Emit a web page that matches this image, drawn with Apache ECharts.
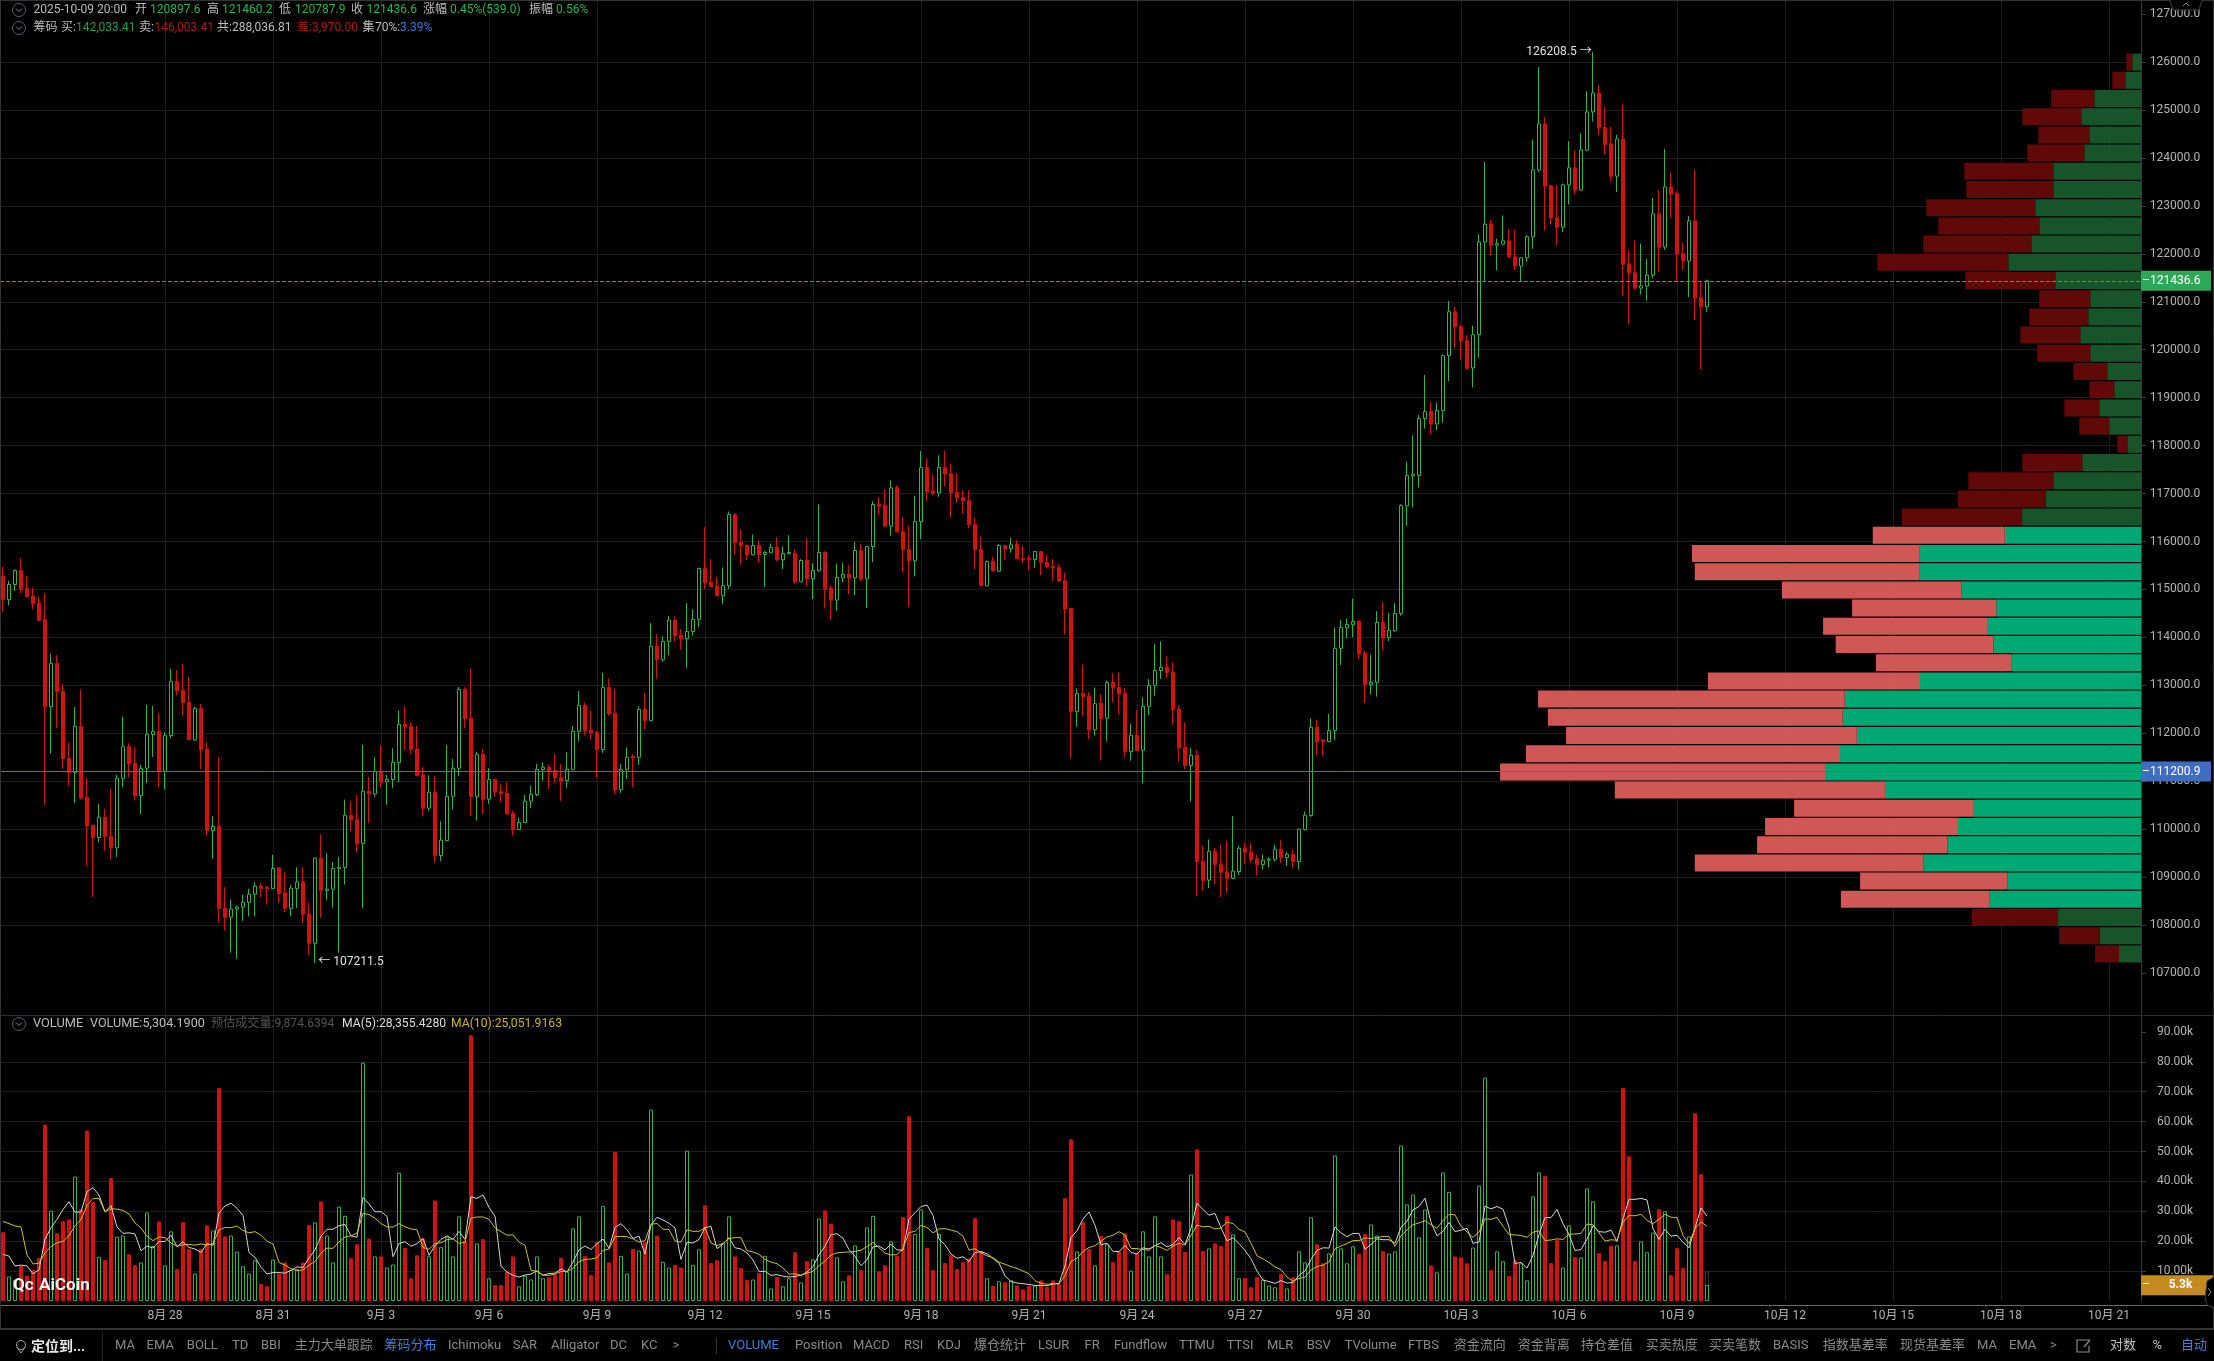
<!DOCTYPE html>
<html><head><meta charset="utf-8">
<style>html,body{margin:0;padding:0;background:#000}#c{width:2214px;height:1361px}</style>
<script src="https://cdn.jsdelivr.net/npm/echarts@6/dist/echarts.min.js"></script>
</head><body><div id="c"></div>
<script>
const open=[115270,114785,115104,115396,115021,114861,114715,114375,112556,113459,
112875,111480,111181,112146,110667,110084,109827,110250,109855,109612,
111063,111730,111375,110702,111271,111973,112042,111209,111952,113084,
112896,112646,111861,112521,111674,109973,110063,108355,108167,108334,
108375,108473,108646,108813,108792,108764,109195,108674,108348,108764,
108903,108230,107619,109396,108723,108751,109181,109202,110292,110209,
109702,110792,110737,111209,110993,111035,111389,112188,112146,111674,
111132,110438,110771,109452,109764,110688,111271,112917,112313,110681,
111563,110625,111042,110792,110750,110334,109993,110139,110584,110723,
111243,111292,111229,111084,111014,111250,112042,112583,112063,112021,
111660,112958,112417,110826,111250,111521,111500,112507,112264,113813,
113535,113917,114361,114049,113972,114125,114375,115437,115153,115069,
114868,115076,116562,115986,115924,115722,115924,115729,115764,115882,
115618,115743,115757,115160,115611,115222,115389,115778,115028,114778,
115243,115319,115243,115812,115222,115896,116778,116757,116319,117125,
116208,115833,115597,116416,117541,117048,117014,117541,117416,117021,
116916,116854,116354,115833,115076,115590,115382,115917,115854,115937,
115646,115653,115625,115792,115562,115479,115458,115180,114604,112451,
112833,112771,112076,112625,112313,113062,112958,112833,111618,111958,
111646,112563,113000,113312,113382,113271,112507,111708,111326,111542,
109333,108938,109542,109271,109104,108972,109118,109604,109521,109382,
109264,109354,109375,109583,109410,109479,109326,109993,110285,112125,
111861,111826,112056,113771,114201,114264,114340,113674,113014,113062,
114312,113993,114139,114500,116743,117368,117376,118563,118709,118452,
118730,119876,120792,120480,120188,119619,120313,122244,122626,122181,
122202,122271,121938,121744,121917,122355,123750,124709,123417,122751,
122556,123438,123792,123327,124160,124959,125355,124632,124292,123619,
124396,121792,121605,121285,121327,121556,122834,122140,123396,123258,
122001,121848,122688,121084,120897.6];
const close=[114790,115104,115396,115007,114847,114702,114354,112556,113459,112868,
111473,111181,112146,110653,110077,109827,110250,109848,109612,111063,
111730,111361,110702,111271,111980,112042,111202,111959,113084,112889,
112639,111868,112521,111660,109973,110056,108348,108160,108334,108375,
108473,108646,108813,108764,108764,109181,108660,108348,108771,108896,
108223,107619,109396,108723,108751,109181,109209,110292,110195,109695,
110792,110737,111209,110980,111042,111396,112188,112132,111660,111118,
110438,110771,109452,109771,110688,111271,112917,112306,110681,111563,
110618,111035,110778,110743,110320,109986,110139,110584,110730,111250,
111292,111222,111077,111007,111250,112042,112583,112049,112007,111660,
112958,112403,110820,111250,111500,111486,112500,112264,113813,113535,
113917,114361,114028,113972,114125,114375,115437,115139,115055,114868,
115083,116562,115972,115910,115722,115917,115722,115771,115875,115618,
115750,115771,115153,115604,115222,115396,115771,115007,114778,115250,
115312,115243,115812,115215,115896,116771,116736,116319,117118,116201,
115826,115597,116416,117541,117034,117007,117541,117410,117014,116910,
116847,116347,115826,115076,115583,115389,115917,115847,115930,115639,
115618,115618,115792,115555,115472,115451,115174,114590,112451,112833,
112764,112069,112618,112306,113062,112951,112826,111618,111958,111639,
112563,113000,113312,113375,113264,112493,111695,111326,111542,109326,
108931,109542,109264,109097,108972,109125,109604,109514,109368,109264,
109354,109375,109583,109410,109479,109326,110000,110292,112125,111826,
111826,112056,113771,114208,114271,114333,113660,113014,113062,114312,
113986,114146,114500,116750,117375,117403,118563,118709,118452,118730,
119876,120792,120473,120181,119612,120313,122244,122619,122181,122209,
122271,121931,121744,121917,122355,123750,124709,123410,122744,122556,
123438,123792,123327,124167,124959,125355,124618,124278,123619,124396,
121778,121598,121285,121334,121556,122834,122133,123396,123244,121994,
121848,122688,121077,120897,121436.6];
const low=[114530,114667,114972,114924,114833,114590,114340,110507,111577,112111,
111257,110910,110549,110618,109244,108584,109730,109556,109369,109417,
110875,111077,110598,110320,110966,111507,110875,110827,111896,112799,
112368,111860,111841,111257,109868,109382,108049,107890,107424,107299,
108091,108181,108181,108584,108424,108757,108466,108271,108181,108355,
108042,107383,107211.5,108153,108528,108362,107424,108848,109952,109521,
108355,110132,110674,110861,110507,110861,110980,111646,111570,111104,
110264,110382,109299,109334,109743,110410,111105,112104,110271,110181,
110320,110528,110681,110563,110306,109868,109980,110130,110438,110688,
111014,110840,110966,110590,110868,111222,111826,111951,111861,111077,
111590,112368,110736,110757,111049,110875,111340,112077,112257,113132,
113493,113632,113917,113743,113368,114035,114215,115007,115042,114854,
114694,115007,115722,115514,115611,115715,115562,115049,115757,115590,
115423,115736,115111,115153,115069,114798,115368,114604,114361,114556,
115153,114903,114882,115174,114611,115569,116548,116310,116118,116187,
115354,114639,115271,116048,116847,116965,116930,117146,116507,116812,
116576,116271,115423,115070,115069,115368,115368,115618,115771,115632,
115562,115403,115444,115298,115437,115174,115160,114069,111486,112139,
112354,111882,111951,111431,111826,112646,112403,111500,111431,111630,
110958,112382,112785,113132,113153,112174,111410,111257,110576,108597,
108722,108771,108861,108583,108674,108960,109049,109278,109299,109035,
109160,109201,109326,109299,109229,109201,109153,109972,110250,111535,
111521,111815,111861,113424,113979,114000,113549,112632,112819,112764,
113729,113917,114118,114451,116326,116708,117126,118355,118244,118327,
118480,119341,120029,119786,119591,119216,119834,121431,121966,121660,
122188,121924,121653,121431,121834,122105,123700,122494,122612,122174,
122452,123028,123243,123320,124140,124757,124480,124070,123514,123285,
121119,120535,121244,121154,121021,121494,121626,122077,122758,121431,
121674,121098,120619,119591,120787.9];
const high=[115470,115181,115420,115653,115285,115042,114854,114924,113660,113632,
113042,111813,112549,112917,111063,110090,110528,110424,110841,111132,
112348,111792,111716,111341,112591,112570,112424,112021,113341,113320,
113445,113174,112556,112611,111813,110271,111500,108792,108535,108410,
108632,108757,108896,108875,108813,109466,109209,109105,108841,109209,
109209,108466,109410,109896,109500,109313,109417,110618,110590,110716,
111757,111091,111500,111750,111132,111688,112479,112563,112229,112153,
111299,111125,111104,110167,111757,111466,112966,112966,113354,111618,
111674,111271,111050,110938,110980,110382,110243,110716,110910,111361,
111396,111340,111569,111361,111604,112160,112882,112646,112479,112056,
113257,113146,112924,111361,111708,111563,112563,112840,114299,114069,
114021,114451,114437,114174,114715,114583,115458,116298,115632,115264,
115458,116625,116590,116257,115935,116146,116028,115806,115958,116090,
115903,116132,115840,115632,116069,115549,116778,115790,115076,115542,
115562,115514,115993,115958,115900,116840,116923,117090,117278,117173,
116507,116326,116958,117882,117736,117396,117798,117896,117625,117423,
117069,117069,116500,116104,115604,115687,115944,115925,116076,116028,
115910,115715,115800,115800,115722,115632,115528,115354,114625,112937,
113431,112861,112958,112819,113097,113257,113271,112937,112194,112486,
112750,113132,113868,113917,113604,113479,112590,112229,111695,111653,
109660,109785,109611,109674,109757,110271,109660,109715,109708,109465,
109465,109417,109674,109771,109521,109569,110010,110368,112313,112285,
111882,112403,114208,114368,114396,114812,114350,113722,113639,114549,
114736,114514,114715,116778,117666,118215,118640,119473,118910,118897,
119903,121015,120897,120529,120299,120501,122410,123917,122709,122313,
122799,122507,122507,121931,122390,124382,125896,124855,123438,123438,
123466,124348,124153,124514,125389,126208.5,125514,125063,124646,124480,
125118,122063,122278,122216,121896,123167,123327,124188,123688,123299,
122230,122792,123757,121431,121460.2];
const volumeK=[23.0,8.2,7.0,11.7,8.5,10.4,14.4,59.0,30.2,22.7,
26.7,27.3,41.6,30.6,57.0,33.1,14.8,13.7,41.1,21.5,
21.9,15.6,12.0,12.9,29.6,18.4,26.6,11.9,23.3,10.7,
26.4,17.4,9.2,17.5,25.3,23.6,71.2,21.6,21.9,16.5,
11.6,9.2,13.6,5.7,5.0,13.9,9.2,12.9,10.4,10.6,
12.9,25.4,26.3,33.3,21.9,12.9,31.6,28.5,14.3,19.0,
79.7,20.9,14.9,14.9,11.2,12.2,42.9,17.8,7.6,15.3,
20.9,15.0,33.6,18.0,21.5,14.9,28.3,20.2,88.9,19.3,
20.7,7.6,5.3,5.3,9.8,14.9,4.9,8.4,7.2,14.9,
7.6,7.9,8.9,14.4,9.8,24.3,28.3,15.0,8.7,19.7,
31.8,12.9,49.8,15.1,9.2,17.4,16.9,19.7,64.0,21.9,
13.1,11.2,12.0,11.2,50.3,12.1,17.3,32.0,12.7,13.6,
19.3,28.3,14.9,11.0,7.0,7.2,9.4,15.1,4.2,8.0,
4.9,7.6,16.3,6.2,13.3,13.9,27.6,30.3,25.9,14.6,
6.6,8.6,18.6,10.4,24.6,28.5,9.9,11.9,19.9,15.1,
28.1,61.8,22.4,30.6,17.7,10.4,22.4,12.7,15.3,10.7,
13.0,14.3,27.7,16.6,7.6,5.0,6.6,6.3,6.9,5.2,
3.9,5.0,5.2,6.9,4.7,6.9,5.7,34.4,54.1,16.6,
26.4,17.4,11.9,21.7,19.0,13.0,16.7,22.6,10.2,16.0,
23.3,14.9,28.3,14.9,9.0,27.3,26.7,16.4,42.3,50.7,
16.7,17.6,19.3,18.4,28.4,22.3,7.6,7.7,4.6,8.0,
7.2,5.2,4.6,9.0,4.2,7.9,16.6,12.9,28.0,19.0,
12.6,15.9,48.7,17.6,12.6,18.3,15.7,22.4,25.6,21.9,
16.7,15.9,16.6,52.0,32.3,35.6,21.3,30.6,11.9,9.6,
43.0,36.5,14.9,14.6,12.6,17.9,38.6,74.7,10.4,16.6,
13.3,8.4,13.6,12.6,6.9,35.0,43.0,41.8,12.7,20.4,
11.2,25.3,14.7,14.6,37.6,33.3,16.0,13.4,18.4,18.6,
71.2,48.4,13.4,19.9,16.3,22.9,30.7,30.0,8.7,17.7,
11.0,21.6,62.8,42.4,5.3042];
const ma5K=[15.6,15.0,11.7,12.0,11.7,9.1,10.4,20.7,24.5,27.3,
30.6,33.2,29.7,29.8,36.6,37.9,35.4,29.8,31.9,24.8,
22.6,22.8,22.4,16.8,18.4,17.7,19.9,19.9,22.0,18.2,
19.8,17.9,17.4,16.2,19.2,18.6,29.4,31.8,32.7,31.0,
28.6,16.2,14.6,11.3,9.0,9.5,9.5,9.3,10.3,11.4,
11.2,14.4,17.1,21.7,24.0,24.0,25.2,25.6,21.8,21.3,
34.6,32.5,29.8,29.9,28.3,14.8,19.2,19.8,18.3,19.2,
20.9,15.3,18.5,20.6,21.8,20.6,23.3,20.6,34.8,34.3,
35.5,31.3,28.4,11.6,9.7,8.6,8.0,8.7,9.0,10.1,
8.6,9.2,9.3,10.7,9.7,13.1,17.1,18.4,17.2,19.2,
20.7,17.6,24.6,25.9,23.8,20.9,21.7,15.7,25.4,28.0,
27.1,26.0,24.4,13.9,19.6,19.4,20.6,24.6,24.9,17.5,
19.0,21.2,17.8,17.4,16.1,13.7,9.9,9.9,8.6,8.8,
8.3,8.0,8.2,8.6,9.7,11.5,15.5,18.3,22.2,22.5,
21.0,17.2,14.9,11.8,13.8,18.1,18.4,17.1,19.0,17.1,
17.0,27.4,29.5,31.6,32.1,28.6,20.7,18.8,15.7,14.3,
14.8,13.2,16.2,16.5,15.8,14.2,12.7,8.4,6.5,6.0,
5.8,5.5,5.2,5.2,5.1,5.7,5.9,11.7,21.2,23.5,
27.4,29.8,25.3,18.8,19.3,16.6,16.5,18.6,16.3,15.7,
17.8,17.4,18.5,19.5,18.1,18.9,21.2,18.9,24.3,32.7,
30.6,28.7,29.3,24.5,20.1,21.2,19.2,16.9,14.1,10.0,
7.0,6.5,5.9,6.8,6.0,6.2,8.5,10.1,13.9,16.9,
17.8,17.7,24.8,22.8,21.5,22.6,22.6,17.3,18.9,20.8,
20.5,20.5,19.3,24.6,26.7,30.5,31.6,34.4,26.3,21.8,
23.3,26.3,23.2,23.7,24.3,19.3,19.7,31.7,30.8,31.6,
30.7,24.7,12.5,12.9,11.0,15.3,22.2,27.9,27.9,30.6,
25.8,22.3,16.9,17.2,20.7,25.1,23.2,23.0,23.7,19.9,
27.5,34.0,34.0,34.3,33.8,24.2,20.6,24.0,21.7,22.0,
19.6,17.8,24.4,31.1,28.36];
const ma10K=[26.6,25.9,25.1,24.8,15.4,12.4,12.6,16.1,18.2,19.5,
19.9,21.8,25.2,27.2,32.0,34.3,34.3,29.8,30.9,30.7,
30.3,29.1,26.1,24.4,21.6,20.2,21.4,21.2,19.4,18.3,
18.8,18.9,18.7,19.1,18.7,19.2,23.7,24.6,24.5,25.1,
23.6,22.8,23.2,22.0,20.0,19.1,12.9,12.0,10.8,10.2,
10.4,12.0,13.2,16.0,17.7,17.6,19.8,21.4,21.8,22.7,
29.3,28.9,27.7,25.9,24.8,24.7,25.9,24.8,24.1,23.8,
17.9,17.3,19.2,19.5,20.5,20.8,19.3,19.6,27.7,28.1,
28.1,27.3,24.5,23.2,22.0,22.1,19.7,18.6,10.3,9.9,
8.6,8.6,9.0,9.9,9.9,10.9,13.2,13.9,14.0,14.5,
16.9,17.4,21.5,21.6,21.5,20.8,19.7,20.2,25.7,25.9,
24.0,23.9,20.1,19.7,23.8,23.3,23.3,24.5,19.4,18.6,
19.2,20.9,21.2,21.2,16.8,16.4,15.6,13.9,13.0,12.5,
11.0,9.0,9.1,8.6,9.3,9.9,11.8,13.3,15.4,16.1,
16.3,16.4,16.6,17.0,18.2,19.6,17.8,16.0,15.4,15.5,
17.6,22.9,23.3,25.3,24.6,22.8,24.1,24.2,23.7,23.2,
21.7,17.0,17.5,16.1,15.1,14.5,13.0,12.3,11.5,10.9,
10.0,9.1,6.8,5.9,5.6,5.8,5.7,8.5,13.2,14.3,
16.6,17.9,18.5,20.0,21.4,22.0,23.2,22.0,17.6,17.5,
17.2,17.0,18.6,17.9,16.9,18.4,19.3,18.7,21.9,25.4,
24.8,25.0,24.1,24.4,26.4,25.9,24.0,23.1,19.3,15.1,
14.1,12.9,11.4,10.5,8.0,6.6,7.5,8.0,10.4,11.5,
12.0,13.1,17.5,18.4,19.2,20.2,20.2,21.1,20.9,21.2,
21.6,21.6,18.3,21.8,23.8,25.5,26.1,26.9,25.5,24.3,
26.9,29.0,28.8,25.0,23.1,21.3,23.0,27.5,27.3,28.0,
25.0,22.2,22.1,21.9,21.3,23.0,23.5,20.2,20.4,20.8,
20.6,22.3,22.4,22.6,25.7,25.5,22.8,20.0,20.5,20.3,
26.3,28.6,28.5,29.0,26.9,25.9,27.3,29.0,28.0,27.9,
21.9,19.2,24.2,26.4,25.05];
const chipBuy=[200,361,1074,1373,1189,1304,2017,2017,2431,2339,2523,3052,1971,1166,1212,1396,1166,775,614,959,729,315,1350,2017,2190,2735,3133,5104,5104,4124,3328,3542,3393,2972,5083,6815,6859,6537,6923,7268,5890,3843,4209,4448,5007,3068,3478,1907,948,506];
const chipSell=[138,299,989,1357,1173,1311,2047,2001,2507,2323,2484,3013,2070,1173,1357,1380,1219,782,575,805,690,230,1380,1955,2024,2767,3036,5223,5159,4135,3317,3770,3629,3123,4878,7052,6783,6686,7224,7473,6212,4135,4437,4382,5256,3393,3425,1980,936,550];
const chipZone=[26,46];
const priceTicks=[107000,108000,109000,110000,111000,112000,113000,114000,115000,116000,117000,118000,119000,120000,121000,122000,123000,124000,125000,126000,127000];
const volumeTicks=[10,20,30,40,50,60,70,80,90];
const lastPrice=121436.6, crossPrice=111200.9, estimatedVolumeK=9.8746;
const highMark=[265,126208.5], lowMark=[52,107211.5];
const slots=357;
const categories=[];
for(let i=0;i<slots;i++){const d=new Date(2025,7,23,12+4*i);categories.push((d.getMonth()+1)+'月 '+d.getDate());}

const FONT='Roboto,"Noto Sans CJK SC",sans-serif';
const UP='#2db24e',DOWN='#d01212',GRID='#1e1e1e',AX='#3a3a3a',TICK='#b4b4b4';
const gL='#bdbdbd',gV='#1db954',gT='#8a8a8a';
const headerRow1=[['2025-10-09 20:00',33.5,gL],['开',135,gL],['120897.6',150,gV],['高',207,gL],['121460.2',222,gV],['低',279,gL],['120787.9',295,gV],['收',351,gL],['121436.6',366.5,gV],['涨幅',423,gL],['0.45%(539.0)',450,gV],['振幅',529,gL],['0.56%',556,gV]];
const headerRow2=[['筹码',33.5,gL],['买:',61,gL],['142,033.41',76,'#1f9f4c'],['卖:',139,gL],['146,003.41',154.5,'#b01818'],['共:288,036.81',217,gL],['差:',297,'#b01818'],['3,970.00',312,'#b01818'],['集',362.5,gL],['70%:',375,gL],['3.39%',400,'#2d7fe0']];
const legendRow=[['VOLUME',33,gL,12.8],['VOLUME:5,304.1900',90,gL,12.6],['预估成交量:9,874.6394',211,'#555555',12.1],['MA(5):28,355.4280',342,'#dddddd',12.2],['MA(10):25,051.9163',451,'#c8b820',12.2]];
const toolbar=[['MA',115],['EMA',146.6],['BOLL',186.8],['TD',232],['BBI',261],['主力大单跟踪',294.7],['筹码分布',384.6,'#3f7fd8'],['Ichimoku',448],['SAR',512.8],['Alligator',551],['DC',610],['KC',641],['>',672.7],['VOLUME',728,'#3f7fd8'],['Position',795],['MACD',853],['RSI',904],['KDJ',937],['爆仓统计',974],['LSUR',1038],['FR',1084.5],['Fundflow',1114],['TTMU',1179],['TTSI',1226.7],['MLR',1267],['BSV',1306.7],['TVolume',1344.7],['FTBS',1408],['资金流向',1453.7],['资金背离',1517.7],['持仓差值',1581],['买卖热度',1645.7],['买卖笔数',1709],['BASIS',1773],['指数基差率',1822.8],['现货基差率',1900],['MA',1977],['EMA',2009],['>',2050],['对数',2110,'#c4c4c4'],['%',2152.5,'#c4c4c4'],['自动',2181,'#3f7fd8']];

const txt=(s,x,y,fill,size,weight)=>({type:'text',z:100,silent:true,x,y,style:{text:s,fill,font:(weight||'normal')+' '+(size||12)+'px '+FONT,verticalAlign:'middle',align:'left'}});
const seg=(x1,y1,x2,y2,c,w)=>({type:'line',z:90,silent:true,shape:{x1,y1,x2,y2},style:{stroke:c,lineWidth:w||1}});
const chevronIcon=(cx,cy)=>[{type:'circle',z:100,silent:true,shape:{cx,cy,r:6.5},style:{fill:'none',stroke:'#5a5f6a',lineWidth:1}},
 {type:'polyline',z:100,silent:true,shape:{points:[[cx-3,cy-1.5],[cx,cy+1.5],[cx+3,cy-1.5]]},style:{fill:'none',stroke:'#8a8f9a',lineWidth:1}}];
const graphics=[
 seg(0,1015.5,2214,1015.5,'#2c2c2c'),
 seg(0,1305.5,2214,1305.5,'#6a6a70'),
 seg(0,1329,2214,1329,'#333',2),
 seg(0.5,0,0.5,1329,'#333'),
 seg(2213.5,0,2213.5,1329,'#333'),
 seg(0,0.5,2214,0.5,'#333'),
 seg(102.5,1331,102.5,1361,'#222'),
 seg(716.5,1338,716.5,1354,'#333'),
 {type:'polyline',z:95,silent:true,shape:{points:[[2170,0],[2173,10],[2199,10],[2202,0]]},style:{fill:'#000',stroke:'#444',lineWidth:1}},
 {type:'polyline',z:96,silent:true,shape:{points:[[2183,6],[2186,3],[2189,6]]},style:{fill:'none',stroke:'#888',lineWidth:1}},
 {type:'polyline',z:95,silent:true,shape:{points:[[2214,1277],[2207,1281],[2205,1300],[2207,1305],[2214,1308]]},style:{fill:'#000',stroke:'#444',lineWidth:1}},
 {type:'polyline',z:96,silent:true,shape:{points:[[2208,1288],[2211,1292],[2208,1296]]},style:{fill:'none',stroke:'#888',lineWidth:1}},
 ...chevronIcon(19,10),...chevronIcon(19,28),...chevronIcon(19,1024),
 ...headerRow1.map(a=>txt(a[0],a[1],10,a[2])),
 ...headerRow2.map(a=>txt(a[0],a[1],28,a[2])),
 ...legendRow.map(a=>txt(a[0],a[1],1024,a[2],a[3])),
 ...toolbar.map(a=>txt(a[0],a[1],1346,a[2]||gT,13)),
 txt('定位到...',31,1347,'#e8e8e8',14,'bold'),
 {type:'circle',z:100,silent:true,shape:{cx:21,cy:1345,r:4.5},style:{fill:'none',stroke:'#a0a0a0',lineWidth:1}},
 {type:'polyline',z:100,silent:true,shape:{points:[[16.8,1347],[21,1353],[25.2,1347]]},style:{fill:'none',stroke:'#a0a0a0',lineWidth:1}},
 {type:'polyline',z:100,silent:true,shape:{points:[[2090,1340],[2077,1340],[2077,1352],[2089,1352],[2089,1346]]},style:{fill:'none',stroke:'#8a8a8a',lineWidth:1.2}},
 seg(2084,1347,2090,1340,'#8a8a8a',1.2),
 txt('Qc',13,1286,'#f4f4f4',17,'bold'),
 txt('AiCoin',39,1286,'#f4f4f4',17,'bold')
];

const tag=(value,text,bg,lineStyle)=>({yAxis:value,lineStyle,label:{show:true,position:'end',distance:-1,formatter:'{d|–}{v|'+text+'}',backgroundColor:bg,padding:[4,0,4,1],rich:{d:{color:'#fff',fontSize:12,fontFamily:FONT,width:8},v:{color:'#fff',fontSize:12,fontFamily:FONT,width:61,align:'left'}}}});
const volStyleUp={color:'rgba(0,0,0,0)',borderColor:UP,borderWidth:1};
const volStyleDown={color:DOWN,borderColor:DOWN,borderWidth:1};
const chipColor=(i,bright,dark)=>(i>=chipZone[0]&&i<=chipZone[1])?bright:dark;
const tickInterval=(idx)=>idx>=27&&idx%18===9;
const hidden={color:'rgba(0,0,0,0)'};

const chart=echarts.init(document.getElementById('c'),null,{renderer:'canvas'});
chart.setOption({
 animation:false,backgroundColor:'#000',textStyle:{fontFamily:FONT},
 grid:[
  {left:0,width:2142,top:-33.9,height:1054.9,outerBoundsMode:'none'},
  {left:0,width:2142,top:1002,height:299,outerBoundsMode:'none'},
  {left:0,width:2141,top:53,height:910,outerBoundsMode:'none'}
 ],
 xAxis:[
  {type:'category',gridIndex:0,data:categories,boundaryGap:true,axisLine:{show:false},axisTick:{show:false},axisLabel:{show:false},
   splitLine:{show:true,alignWithLabel:true,interval:(i)=>tickInterval(i),lineStyle:{color:GRID}}},
  {type:'category',gridIndex:1,data:categories,boundaryGap:true,axisLine:{show:false},axisTick:{show:false},
   axisLabel:{show:true,interval:(i)=>tickInterval(i),color:TICK,fontSize:12,margin:9,fontFamily:FONT},
   splitLine:{show:true,alignWithLabel:true,interval:(i)=>tickInterval(i),lineStyle:{color:GRID}}},
  {type:'value',gridIndex:2,inverse:true,min:0,max:49243,show:false,splitLine:{show:false}}
 ],
 yAxis:[
  {type:'value',gridIndex:0,position:'right',offset:-1,min:106000,max:128000,interval:1000,
   axisLine:{show:true,onZero:false,lineStyle:{color:AX}},
   axisTick:{show:true,length:5,lineStyle:{color:AX},customValues:priceTicks},
   axisLabel:{show:true,customValues:priceTicks,formatter:v=>v.toFixed(1),color:TICK,fontSize:12,margin:34,align:'center',fontFamily:FONT},
   splitLine:{show:true,showMinLine:false,showMaxLine:false,lineStyle:{color:GRID}}},
  {type:'value',gridIndex:1,position:'right',offset:-1,min:0,max:100,interval:10,
   axisLine:{show:true,onZero:false,lineStyle:{color:AX}},
   axisTick:{show:true,length:5,lineStyle:{color:AX},customValues:volumeTicks},
   axisLabel:{show:true,customValues:volumeTicks,formatter:v=>v.toFixed(2)+'k',color:TICK,fontSize:12,margin:34,align:'center',fontFamily:FONT},
   splitLine:{show:true,showMaxLine:false,lineStyle:{color:GRID}}},
  {type:'category',gridIndex:2,inverse:true,show:false,data:chipBuy.map((_,i)=>String(i))}
 ],
 series:[
  {name:'chipBuy',type:'bar',xAxisIndex:2,yAxisIndex:2,stack:'chip',barWidth:17,z:1,silent:true,
   data:chipBuy.map((v,i)=>({value:v,itemStyle:{color:chipColor(i,'rgba(0,174,120,0.97)','rgba(24,88,44,0.95)')}}))},
  {name:'chipSell',type:'bar',xAxisIndex:2,yAxisIndex:2,stack:'chip',barWidth:17,z:1,silent:true,
   data:chipSell.map((v,i)=>({value:v,itemStyle:{color:chipColor(i,'rgba(214,90,88,0.97)','rgba(102,10,10,0.95)')}}))},
  {name:'kline',type:'candlestick',xAxisIndex:0,yAxisIndex:0,barWidth:4,z:3,
   data:open.map((o,i)=>[o,close[i],low[i],high[i]]),
   itemStyle:{color:'rgba(0,0,0,0)',color0:DOWN,borderColor:UP,borderColor0:DOWN,borderWidth:1},
   markLine:{silent:true,symbol:['none','none'],animation:false,z:5,
    data:[tag(lastPrice,lastPrice.toFixed(1),'#2ea858',{color:'#35a85a',type:'dashed',width:1}),
          tag(crossPrice,crossPrice.toFixed(1),'#3e6dc2',{color:'#3a6ecf',type:'solid',width:1})]},
   markPoint:{silent:true,animation:false,
    data:[{coord:highMark,symbolSize:1,itemStyle:hidden,label:{show:true,position:'left',distance:1,formatter:highMark[1]+' →',color:'#e0e0e0',fontSize:12,fontFamily:FONT}},
          {coord:lowMark,symbolSize:1,itemStyle:hidden,label:{show:true,position:'right',distance:3,formatter:'← '+lowMark[1],color:'#e0e0e0',fontSize:12,fontFamily:FONT}}]}},
  {name:'volume',type:'bar',xAxisIndex:1,yAxisIndex:1,barWidth:4,barGap:'-100%',z:2,silent:true,
   data:volumeK.map((v,i)=>({value:v,itemStyle:close[i]>=open[i]?volStyleUp:volStyleDown})),
   markLine:{silent:true,symbol:['none','none'],animation:false,z:6,
    data:[{yAxis:volumeK[volumeK.length-1],lineStyle:{color:'rgba(0,0,0,0)',width:0},label:{show:true,position:'end',distance:-1,formatter:'{d|–}{v|5.3k}',backgroundColor:'#c48a22',padding:[4,0,4,1],rich:{d:{color:'#fff',fontSize:12,fontFamily:FONT,width:8},v:{color:'#fff',fontSize:12,fontFamily:FONT,fontWeight:'bold',width:61,align:'center',padding:[0,8,0,0]}}}}]}},
  {name:'estimate',type:'bar',xAxisIndex:1,yAxisIndex:1,barWidth:4,barGap:'-100%',z:1,silent:true,
   data:volumeK.map((v,i)=>i===volumeK.length-1?estimatedVolumeK:null),
   itemStyle:{color:'rgba(0,0,0,0)',borderColor:'#6a6a6a',borderWidth:1,borderType:'dotted'}},
  {name:'MA5',type:'line',xAxisIndex:1,yAxisIndex:1,data:ma5K,showSymbol:false,symbol:'none',z:4,silent:true,lineStyle:{color:'#d6d6d6',width:1}},
  {name:'MA10',type:'line',xAxisIndex:1,yAxisIndex:1,data:ma10K,showSymbol:false,symbol:'none',z:4,silent:true,lineStyle:{color:'#d2c01c',width:1}}
 ],
 graphic:graphics
});
</script></body></html>
